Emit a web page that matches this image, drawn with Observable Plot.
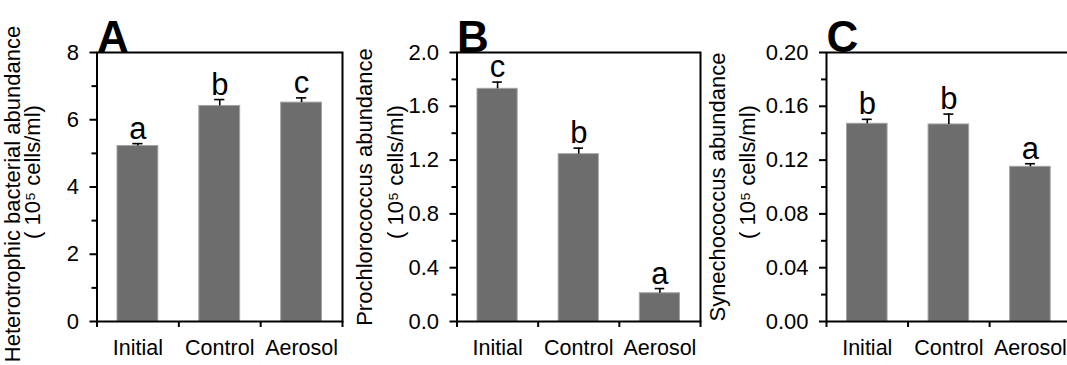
<!DOCTYPE html>
<html>
<head>
<meta charset="utf-8">
<script src="https://cdn.jsdelivr.net/npm/d3@7"></script>
<script src="https://cdn.jsdelivr.net/npm/@observablehq/plot@0.6"></script>
<style>
  html, body { margin: 0; padding: 0; background: white; overflow: hidden; }
  #wrap { position: relative; width: 1067px; height: 365px; overflow: hidden; background: white; }
  .panel { position: absolute; top: 0; }
  .panel svg { max-width: none !important; }
</style>
</head>
<body>
<div id="wrap"></div>
<script>
// ---- data ----
const categories = ["Initial", "Control", "Aerosol"];

const heteroMean = [5.22, 6.41, 6.51];
const heteroErr = [0.07, 0.19, 0.14];
const heteroLetters = ["a", "b", "c"];

const prochloMean = [1.73, 1.244, 0.21];
const prochloErr = [0.05, 0.045, 0.035];
const prochloLetters = ["c", "b", "a"];

const synechoMean = [0.147, 0.1465, 0.115];
const synechoErr = [0.0033, 0.0077, 0.0023];
const synechoLetters = ["b", "b", "a"];

const heteroTicks = [0, 2, 4, 6, 8];
const heteroMinor = [1, 3, 5, 7];
const prochloTicks = [0, 0.4, 0.8, 1.2, 1.6, 2.0];
const prochloMinor = [0.2, 0.6, 1.0, 1.4, 1.8];
const synechoTicks = [0, 0.04, 0.08, 0.12, 0.16, 0.20];
const synechoMinor = [0.02, 0.06, 0.10, 0.14, 0.18];

const panels = [
  {letter: "A", mean: heteroMean, err: heteroErr, sig: heteroLetters, ymax: 8,
   ticks: heteroTicks, minor: heteroMinor, fmt: d3.format("d"),
   title1: "Heterotrophic bacterial abundance", title2: "( 10⁵ cells/ml)",
   left: 0, width: 355, ml: 96.5, mr: 13, t1dx: -84, t1dy: 7, t2dx: -64, t2dy: -15},
  {letter: "B", mean: prochloMean, err: prochloErr, sig: prochloLetters, ymax: 2,
   ticks: prochloTicks, minor: prochloMinor, fmt: d3.format(".1f"),
   title1: "Prochlorococcus abundance", title2: "( 10⁵ cells/ml)",
   left: 355, width: 355, ml: 101.5, mr: 10, t1dx: -92.5, t1dy: 0, t2dx: -61, t2dy: -15},
  {letter: "C", mean: synechoMean, err: synechoErr, sig: synechoLetters, ymax: 0.2,
   ticks: synechoTicks, minor: synechoMinor, fmt: d3.format(".2f"),
   title1: "Synechococcus abundance", title2: "( 10⁵ cells/ml)",
   left: 710, width: 362, ml: 116, mr: 1.3, t1dx: -108.7, t1dy: 0, t2dx: -78.7, t2dy: -15}
];

const wrap = document.getElementById("wrap");

for (const p of panels) {
  const rows = categories.map((c, i) => ({
    cat: c, i, mean: p.mean[i], err: p.err[i], sig: p.sig[i]
  }));
  const chart = Plot.plot({
    width: p.width,
    height: 365,
    marginTop: 52,
    marginBottom: 44,
    marginLeft: p.ml,
    marginRight: p.mr,
    style: {fontFamily: "'Liberation Sans', Arial, sans-serif", background: "white", overflow: "visible", color: "black", maxWidth: "none"},
    x: {type: "linear", domain: [0, categories.length]},
    y: {domain: [0, p.ymax]},
    marks: [
      Plot.rectY(rows, {x1: "i", x2: d => d.i + 1, y1: 0, y2: "mean",
        fill: "#6d6d6d", stroke: "#a3a3a3", strokeWidth: 1, insetLeft: 20.5, insetRight: 20.5}),
      Plot.ruleX(rows, {x: d => d.i + 0.5, y1: "mean", y2: d => d.mean + d.err, stroke: "black", strokeWidth: 1.6}),
      Plot.ruleY(rows, {x1: "i", x2: d => d.i + 1, y: d => d.mean + d.err, stroke: "black", strokeWidth: 1.6,
        insetLeft: 35.8, insetRight: 35.8}),
      Plot.text(rows, {x: d => d.i + 0.5, y: d => d.mean + d.err, text: "sig", lineAnchor: "bottom",
        dy: -5, fontSize: 31, fill: "black"}),
      Plot.frame({stroke: "black", strokeWidth: 2}),
      Plot.axisY({ticks: p.ticks, tickFormat: p.fmt, tickSize: 7, tickPadding: 11, strokeWidth: 2,
        fontSize: 22, label: null}),
      Plot.axisY({ticks: p.minor, tickFormat: () => "", tickSize: 5, strokeWidth: 2, label: null}),
      Plot.axisX({ticks: d3.range(categories.length + 1), tickFormat: () => "", tickSize: 6, strokeWidth: 2, label: null}),
      Plot.axisX({ticks: categories.map((c, i) => i + 0.5), tickFormat: v => categories[Math.floor(v)],
        tickSize: 0, tickPadding: 18, fontSize: 21.5, label: null}),
      Plot.text([p.letter], {frameAnchor: "top-left", textAnchor: "start", lineAnchor: "bottom",
        fontSize: 44, fontWeight: "bold", dy: -1, fill: "black"}),
      Plot.text([p.title1], {frameAnchor: "left", textAnchor: "middle", lineAnchor: "middle", rotate: -90,
        dx: p.t1dx, dy: p.t1dy, fontSize: 22, fill: "black"}),
      Plot.text([p.title2], {frameAnchor: "left", textAnchor: "middle", lineAnchor: "middle", rotate: -90,
        dx: p.t2dx, dy: p.t2dy, fontSize: 22, fill: "black"})
    ]
  });
  const div = document.createElement("div");
  div.className = "panel";
  div.style.left = p.left + "px";
  div.style.width = p.width + "px";
  div.appendChild(chart);
  wrap.appendChild(div);
}
</script>
</body>
</html>
